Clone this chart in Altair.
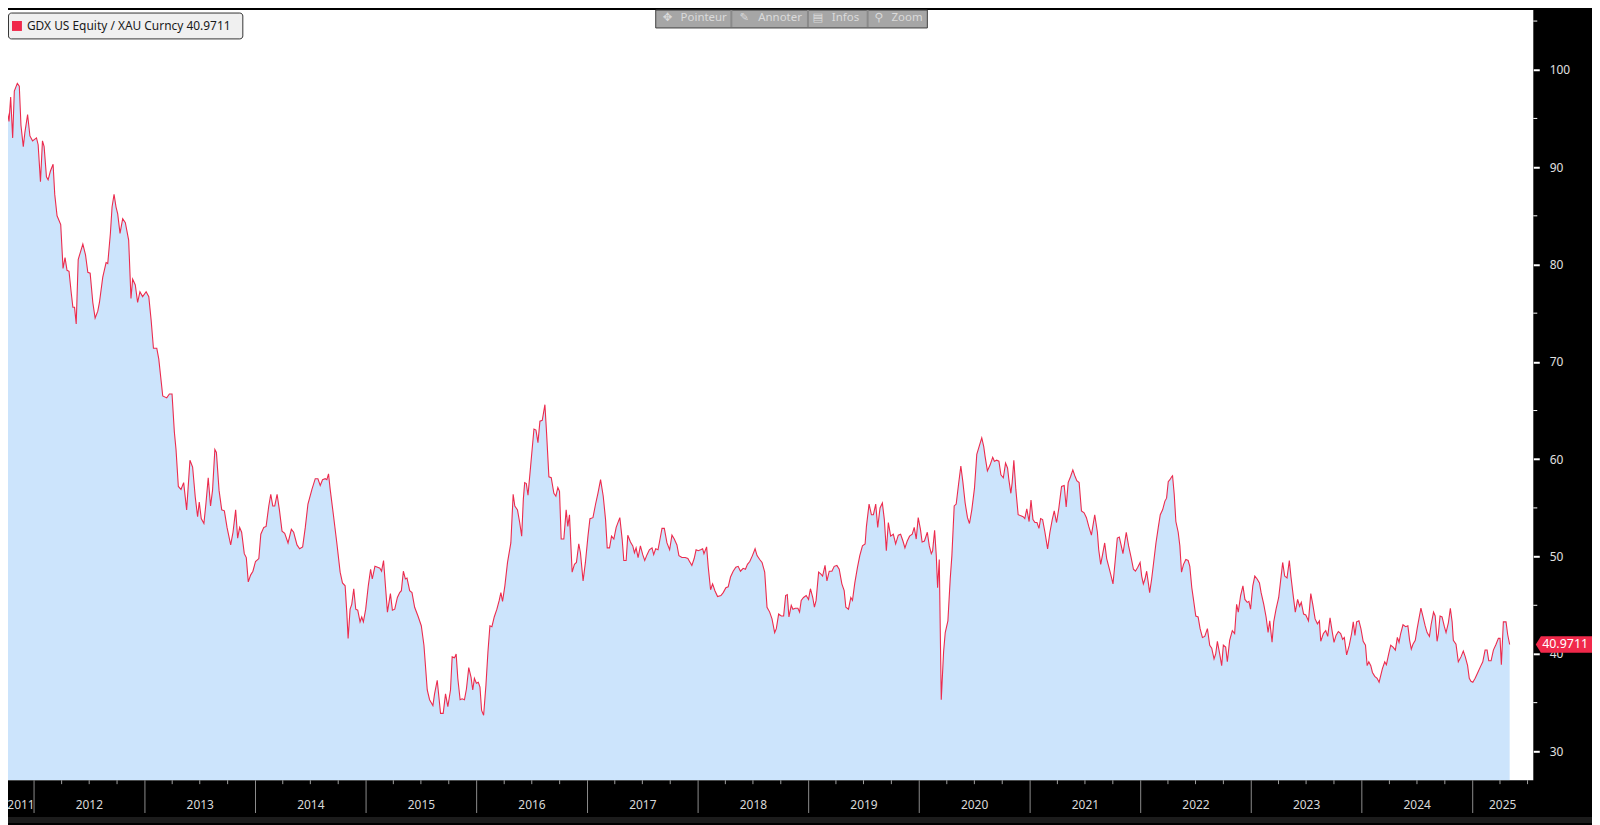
import altair as alt
import pandas as pd

# ---------------- data (decimal year, value) ----------------
T = [
2011.692,2011.707,2011.728,2011.752,2011.773,2011.788,2011.806,2011.821,2011.848,2011.866,2011.881,2011.902,2011.917,2011.941,2011.962,2011.986,
2012.022,2012.037,2012.058,2012.076,2012.091,2012.112,2012.127,2012.148,2012.172,2012.187,2012.208,2012.241,2012.262,2012.280,2012.298,2012.316,
2012.337,2012.351,2012.366,2012.381,2012.399,2012.417,2012.441,2012.465,2012.486,2012.507,2012.531,2012.552,2012.576,2012.591,2012.621,2012.651,
2012.666,2012.690,2012.705,2012.723,2012.741,2012.756,2012.777,2012.801,2012.825,2012.855,2012.876,2012.891,2012.915,2012.936,2012.957,2012.981,
2013.011,2013.035,2013.056,2013.077,2013.107,2013.125,2013.161,2013.197,2013.221,2013.245,2013.266,2013.281,2013.302,2013.326,2013.350,2013.377,
2013.407,2013.431,2013.455,2013.476,2013.491,2013.509,2013.533,2013.551,2013.572,2013.593,2013.611,2013.632,2013.646,2013.670,2013.694,2013.718,
2013.742,2013.775,2013.796,2013.820,2013.838,2013.856,2013.874,2013.898,2013.916,2013.934,2013.955,2013.976,2014.000,2014.030,2014.048,2014.075,
2014.096,2014.120,2014.138,2014.156,2014.174,2014.195,2014.216,2014.240,2014.264,2014.294,2014.324,2014.345,2014.375,2014.399,2014.426,2014.450,
2014.474,
2014.510,2014.540,2014.564,2014.585,2014.606,2014.630,2014.645,2014.660,2014.675,2014.705,2014.735,2014.765,2014.786,2014.810,2014.825,2014.837,
2014.855,2014.870,2014.888,2014.906,2014.924,2014.945,2014.960,2014.975,2014.996,2015.020,2015.041,2015.056,2015.080,2015.104,2015.125,2015.140,
2015.158,2015.175,2015.193,2015.220,2015.238,2015.259,2015.283,2015.304,2015.319,2015.337,2015.355,2015.370,2015.394,2015.415,2015.439,2015.469,
2015.499,2015.523,2015.553,2015.574,2015.604,2015.619,2015.643,2015.658,2015.673,2015.697,2015.718,2015.739,2015.763,2015.778,2015.799,2015.814,
2015.829,2015.850,2015.868,2015.889,2015.907,2015.928,2015.949,2015.964,2015.979,2015.997,2016.015,2016.030,2016.045,2016.063,2016.084,2016.102,
2016.120,2016.138,2016.159,2016.183,2016.204,2016.219,2016.234,2016.255,2016.279,2016.309,2016.330,2016.345,2016.369,2016.389,2016.407,2016.422,
2016.434,2016.449,2016.464,2016.488,2016.518,2016.536,2016.554,2016.572,2016.593,2016.617,2016.632,2016.653,2016.674,2016.698,2016.716,2016.734,
2016.749,2016.764,2016.788,2016.809,2016.824,2016.839,2016.863,2016.884,2016.902,2016.923,2016.938,2016.962,2016.983,2017.004,2017.022,2017.049,
2017.073,2017.094,2017.118,2017.142,2017.163,2017.178,2017.199,2017.217,2017.238,2017.259,
2017.292,2017.313,2017.328,2017.349,2017.364,2017.388,2017.409,2017.424,2017.439,2017.457,2017.478,2017.499,2017.517,2017.538,2017.559,2017.583,
2017.598,2017.616,2017.637,2017.652,2017.673,2017.694,2017.718,2017.742,2017.763,2017.784,2017.808,2017.826,2017.853,2017.883,2017.907,2017.922,
2017.943,2017.964,2017.981,2018.002,2018.023,2018.041,2018.053,2018.077,2018.092,2018.113,2018.131,2018.152,2018.176,2018.206,2018.227,2018.251,
2018.272,2018.293,2018.317,2018.341,2018.362,2018.383,2018.407,2018.428,2018.446,2018.467,2018.491,2018.515,2018.533,2018.557,2018.578,2018.602,
2018.623,2018.647,2018.668,2018.692,2018.707,2018.728,2018.752,2018.773,2018.791,2018.806,2018.821,2018.842,2018.857,2018.878,2018.902,2018.917,
2018.932,2018.953,2018.977,2018.998,2019.016,2019.037,2019.052,2019.067,2019.090,2019.111,2019.126,2019.148,2019.165,2019.186,2019.210,2019.231,
2019.255,2019.276,2019.300,2019.321,2019.336,2019.360,2019.381,2019.396,2019.417,2019.441,2019.462,2019.486,2019.510,2019.522,2019.546,2019.567,
2019.585,2019.606,2019.624,2019.645,2019.666,2019.684,2019.702,2019.720,2019.741,2019.765,2019.786,2019.810,2019.831,2019.852,2019.870,2019.891,
2019.912,2019.936,2019.954,2019.972,2019.990,2020.011,2020.026,2020.047,
2020.073,2020.091,2020.109,2020.121,2020.139,2020.154,2020.166,2020.181,2020.199,2020.220,2020.235,2020.259,2020.280,2020.295,2020.316,2020.334,
2020.355,2020.376,2020.394,2020.415,2020.436,2020.454,2020.475,2020.499,2020.520,2020.541,2020.565,2020.583,2020.595,2020.616,2020.640,2020.664,
2020.679,2020.700,2020.720,2020.738,2020.760,2020.780,2020.798,2020.810,2020.828,2020.840,2020.855,2020.873,2020.894,2020.918,2020.939,2020.954,
2020.972,2020.993,2021.008,2021.026,2021.044,2021.062,2021.080,2021.095,2021.113,2021.134,2021.158,2021.179,2021.200,2021.218,2021.239,2021.260,
2021.284,2021.308,2021.326,2021.344,2021.365,2021.386,2021.404,2021.422,2021.443,2021.464,2021.488,2021.509,2021.530,2021.554,2021.584,2021.608,
2021.620,2021.638,2021.653,2021.674,2021.692,2021.710,2021.728,2021.749,2021.770,2021.788,2021.806,2021.824,2021.839,2021.854,2021.869,2021.890,
2021.913,2021.934,2021.952,2021.973,2021.994,2022.009,2022.024,2022.039,2022.054,2022.069,2022.081,2022.099,2022.117,2022.138,2022.159,2022.177,
2022.198,2022.219,2022.234,2022.249,2022.264,2022.280,2022.288,2022.303,2022.318,2022.339,2022.354,2022.369,2022.387,2022.408,2022.429,2022.444,
2022.462,2022.477,2022.498,2022.519,2022.537,2022.558,2022.579,2022.603,2022.624,2022.642,
2022.663,2022.678,2022.693,2022.714,2022.732,2022.747,2022.768,2022.783,2022.804,2022.828,2022.849,2022.867,2022.882,2022.903,2022.924,2022.942,
2022.963,2022.978,2022.993,2023.014,2023.032,2023.053,2023.074,2023.089,2023.113,2023.134,2023.152,2023.167,2023.188,2023.203,2023.224,2023.248,
2023.263,2023.284,2023.302,2023.323,2023.344,2023.359,2023.377,2023.398,2023.419,2023.437,2023.452,2023.473,2023.493,2023.517,2023.538,2023.556,
2023.577,2023.598,2023.616,2023.628,2023.652,2023.673,2023.691,2023.712,2023.733,2023.748,2023.766,2023.787,2023.808,2023.826,2023.841,2023.862,
2023.886,2023.907,2023.922,2023.937,2023.952,2023.973,2023.991,2024.012,2024.033,2024.048,2024.063,2024.081,2024.096,2024.117,2024.138,2024.156,
2024.171,2024.186,2024.207,2024.222,2024.243,2024.261,2024.282,2024.303,2024.321,2024.336,2024.351,2024.372,2024.396,2024.416,2024.432,2024.447,
2024.462,2024.483,2024.500,2024.516,2024.534,2024.551,2024.572,2024.590,2024.611,2024.626,2024.648,2024.663,2024.680,2024.692,2024.707,2024.725,
2024.746,2024.761,2024.782,2024.800,2024.816,2024.827,2024.851,2024.872,2024.896,2024.917,2024.935,2024.956,2024.971,2024.986,2025.001,2025.022,
2025.046,2025.070,2025.091,2025.112,2025.130,2025.145,2025.166,2025.187,2025.211,2025.232,2025.247,2025.259,2025.277,2025.301,2025.316,2025.334,
]

V = [
100.1,99.8,96.3,96.1,94.7,97.2,93.0,97.8,98.6,98.3,94.3,92.1,93.6,95.4,93.2,92.7,
93.0,92.3,88.5,92.7,92.1,89.0,88.7,89.6,90.3,87.2,85.0,84.1,79.6,80.7,79.4,79.3,
77.0,75.6,75.6,73.9,80.5,81.2,82.1,81.0,79.2,79.1,76.1,74.5,75.2,76.1,78.7,80.2,
80.1,83.2,85.9,87.2,85.9,85.2,83.2,84.7,84.3,82.5,76.5,78.5,77.9,76.1,77.2,76.7,
77.2,76.7,74.3,71.4,71.4,70.3,66.5,66.3,66.7,66.7,62.8,61.0,57.2,56.9,57.6,54.8,
59.9,59.2,56.1,54.1,55.6,53.9,53.4,55.4,58.1,55.2,56.8,61.0,60.7,56.8,54.8,54.7,
53.0,51.2,52.5,54.8,51.9,53.0,52.5,50.3,49.9,47.4,48.1,48.5,49.5,49.8,52.3,53.0,
53.1,55.2,56.4,55.2,55.2,56.4,54.8,52.6,52.4,51.4,52.8,52.5,51.2,50.8,51.0,53.0,
55.4,
56.9,58.0,58.0,57.3,57.9,58.0,57.9,58.5,56.9,54.2,51.4,48.4,47.3,47.0,44.3,41.6,
44.6,45.1,46.7,44.6,44.5,43.3,43.8,43.3,44.6,47.0,48.7,47.7,49.0,48.9,48.8,48.5,
49.6,47.0,44.3,46.2,44.5,44.6,45.8,46.3,46.5,48.5,47.7,47.8,46.5,46.3,44.8,43.9,
42.9,40.9,36.3,35.3,34.7,35.9,37.3,35.6,33.9,33.9,35.9,34.6,36.3,39.7,39.6,40.0,
37.5,35.3,35.4,35.3,36.4,38.6,37.6,36.3,37.5,37.0,37.1,36.6,34.2,33.7,36.8,40.2,
42.9,42.8,43.8,44.6,45.5,46.3,45.4,47.0,49.4,51.4,56.4,55.2,54.8,53.5,52.1,55.9,
57.6,57.5,56.3,59.3,63.1,63.0,61.7,63.9,64.0,65.6,62.7,58.2,58.1,56.5,56.2,57.1,
56.7,51.8,51.8,54.8,53.1,54.3,48.4,49.2,49.4,51.3,50.4,47.5,49.4,52.1,53.9,54.0,
55.4,56.5,57.9,56.2,53.8,50.9,50.9,52.1,51.8,53.0,
54.0,51.8,49.6,49.6,52.2,51.5,51.1,50.4,50.9,49.9,51.1,50.2,49.6,50.2,50.7,50.9,
50.2,50.8,50.7,51.6,52.9,52.9,51.4,50.7,52.2,51.8,51.2,50.1,49.9,49.9,49.8,49.5,
49.1,49.8,50.7,50.6,50.7,50.8,50.3,51.0,48.9,46.6,47.2,46.5,45.9,46.0,46.3,46.8,
46.9,47.9,48.5,48.9,49.0,48.5,48.8,48.7,49.2,49.5,50.1,50.8,50.1,49.7,49.4,48.4,
44.8,44.3,43.6,42.2,42.6,44.1,43.9,43.9,46.0,46.1,43.8,45.0,44.6,44.7,44.7,44.3,
45.5,45.8,46.0,45.6,46.7,45.8,44.8,45.5,48.4,48.2,48.0,49.1,47.5,48.5,48.5,49.0,
49.1,48.7,47.2,46.5,44.8,44.6,45.8,45.5,47.3,48.9,50.1,51.1,51.3,53.1,55.4,54.3,
54.3,55.4,53.0,55.0,55.5,53.8,50.6,53.5,52.1,52.3,51.3,52.2,52.3,51.6,50.9,51.6,
52.1,52.3,53.0,51.8,54.0,52.8,51.5,51.6,
52.5,51.1,50.3,50.6,52.7,50.1,46.8,49.7,35.3,40.2,42.2,43.4,47.7,50.1,55.2,55.4,
57.4,59.3,57.7,55.5,54.0,53.4,54.8,57.0,60.5,61.3,62.2,61.3,60.3,58.8,59.4,60.2,
59.8,59.9,59.8,58.4,58.1,59.6,59.1,57.9,56.5,57.6,59.9,56.9,54.3,54.2,54.1,53.9,
54.9,53.6,55.8,53.8,53.5,53.5,52.9,53.9,53.8,52.5,50.8,52.5,53.8,54.7,53.5,55.0,
57.2,57.3,55.1,57.6,58.2,58.9,58.3,57.8,57.6,54.7,54.5,54.0,53.1,52.2,54.3,52.5,
50.7,49.2,50.1,51.4,49.8,49.0,48.2,47.2,49.7,51.9,52.0,51.1,50.3,51.4,52.5,51.1,
49.9,48.7,48.5,48.9,49.4,48.0,47.2,47.7,48.5,47.3,46.3,47.7,49.4,51.4,53.0,54.3,
54.8,55.7,56.0,57.7,57.9,58.2,58.3,56.4,53.6,52.5,51.1,48.4,49.2,49.7,49.6,49.0,
46.8,45.6,43.9,43.8,42.6,41.7,41.8,42.6,40.9,40.6,
39.5,40.0,41.3,40.0,38.8,40.9,40.7,39.2,41.4,42.4,42.1,45.1,44.3,46.0,47.0,45.6,
45.3,45.4,44.6,47.0,48.0,47.7,47.3,46.3,45.1,43.8,42.2,43.4,41.2,43.3,44.6,45.8,
47.3,49.4,48.0,47.8,49.6,47.9,46.2,44.3,45.6,44.9,45.3,44.1,44.0,43.4,46.2,45.1,
43.6,43.1,43.4,41.3,42.1,42.4,41.8,43.7,42.2,41.2,41.9,42.3,42.1,41.5,41.7,39.9,
40.9,42.1,43.3,41.9,43.3,43.4,42.6,41.3,40.9,38.8,39.2,38.8,38.1,37.7,37.5,37.1,
37.8,38.5,39.2,38.9,40.0,40.9,40.7,40.4,41.7,41.2,42.1,43.0,42.8,42.9,41.4,40.5,
41.0,41.4,42.6,43.6,44.7,43.9,42.9,42.2,41.8,43.0,44.3,43.9,41.3,42.1,43.9,43.8,
42.8,42.2,43.2,44.7,43.3,41.4,41.0,39.2,39.7,40.3,39.7,38.8,37.5,37.2,37.1,37.5,
38.1,38.7,39.2,40.4,40.4,39.3,39.3,40.4,41.0,41.6,41.6,38.9,43.3,43.3,42.0,40.9711,
]

SERIES_NAME = "GDX US Equity / XAU Curncy"
LAST_VALUE = 40.9711
LAST_LABEL = "40.9711"

Y_TICKS = [30, 40, 50, 60, 70, 80, 90, 100]
Y_MINOR = [35, 45, 55, 65, 75, 85, 95, 105]
Y_DOMAIN = [27.04, 106.13]
X_DOMAIN_YEARS = [2011.764, 2025.550]

YEAR_LABELS = ["2011", "2012", "2013", "2014", "2015", "2016", "2017", "2018",
               "2019", "2020", "2021", "2022", "2023", "2024", "2025"]
YEAR_LABEL_POS = [2011.881, 2012.5, 2013.5, 2014.5, 2015.5, 2016.5, 2017.5, 2018.5,
                  2019.5, 2020.5, 2021.5, 2022.5, 2023.5, 2024.5, 2025.271]
YEAR_BOUNDS = list(range(2012, 2026))


def to_ts(t):
    y = int(t)
    return pd.Timestamp(year=y, month=1, day=1) + pd.Timedelta(days=round((t - y) * 365.25, 3))


def to_dt(t):
    ts = to_ts(t)
    return alt.DateTime(year=ts.year, month=ts.month, date=ts.day)


series = pd.DataFrame({"date": [to_ts(t) for t in T], "v": V})
x0, x1 = to_ts(X_DOMAIN_YEARS[0]), to_ts(X_DOMAIN_YEARS[1])

W, H = 1533, 774

xscale = alt.Scale(domain=[to_dt(X_DOMAIN_YEARS[0]), to_dt(X_DOMAIN_YEARS[1])], nice=False)
yscale = alt.Scale(domain=Y_DOMAIN, zero=False, nice=False)
yaxis = alt.Axis(orient="right", values=Y_TICKS, title=None, domain=False, grid=False,
                 ticks=True, tickSize=6, tickWidth=2, tickColor="#ffffff",
                 labelColor="#e0e0e0", labelFont="Noto Sans", labelFontSize=12,
                 labelPadding=10, labelOverlap=False, labelFlush=False)


def X(field="date:T"):
    return alt.X(field, scale=xscale, axis=None)


def Y(field="v:Q"):
    return alt.Y(field, scale=yscale, axis=yaxis)


area = alt.Chart(series).mark_area(color="#cce4fc", clip=True).encode(
    x=X(), y=Y(), y2=alt.datum(Y_DOMAIN[0]))
line = alt.Chart(series).mark_line(color="#ec2b4d", strokeWidth=1.1, clip=True).encode(
    x=X(), y=Y())

minor_df = pd.DataFrame({"m": Y_MINOR})
minor = alt.Chart(minor_df).mark_rule(color="#ffffff", strokeWidth=1).encode(
    y=Y("m:Q"), x=alt.value(W), x2=alt.value(W + 4))

# x axis band
sep_df = pd.DataFrame({"date": [pd.Timestamp(year=y, month=1, day=1) for y in YEAR_BOUNDS]})
seps = alt.Chart(sep_df).mark_rule(color="#8c8c8c", strokeWidth=1).encode(
    x=X(), y=alt.value(H), y2=alt.value(H + 33))

q = pd.date_range("2011-10-01", "2025-07-01", freq="QS")
q = [d for d in q if d.month != 1 and x0 <= d <= x1]
q_df = pd.DataFrame({"date": q})
qticks = alt.Chart(q_df).mark_rule(color="#a0a0a0", strokeWidth=1).encode(
    x=X(), y=alt.value(H), y2=alt.value(H + 4))

yl_df = pd.DataFrame({"date": [to_ts(t) for t in YEAR_LABEL_POS], "label": YEAR_LABELS})
ylabels = alt.Chart(yl_df).mark_text(color="#d8d8d8", font="Noto Sans", fontSize=12,
                                     align="center", baseline="middle").encode(
    x=X(), y=alt.value(H + 25), text="label:N")

bottom_bar = alt.Chart(pd.DataFrame({"a": [0]})).mark_rect(color="#1c1c1c").encode(
    x=alt.value(0), x2=alt.value(W + 59), y=alt.value(H + 37), y2=alt.value(H + 43))

# last value tag
last_df = pd.DataFrame({"v": [LAST_VALUE], "label": [LAST_LABEL]})
tag_shape = "M -1 0 L -0.82 -0.29 L 1 -0.29 L 1 0.29 L -0.82 0.29 Z"
tag = alt.Chart(last_df).mark_point(shape=tag_shape, filled=True, opacity=1,
                                    color="#f0284a", size=57 * 57).encode(
    x=alt.value(W + 31), y=Y())
tag_text = alt.Chart(last_df).mark_text(color="#ffffff", font="Noto Sans", fontSize=12.5,
                                        align="center", baseline="middle").encode(
    x=alt.value(W + 32), y=Y(), text="label:N")

# legend box
one = pd.DataFrame({"a": [0]})
leg_box = alt.Chart(one).mark_rect(fill="#f0f0f0", stroke="#333333", strokeWidth=1,
                                   cornerRadius=3).encode(
    x=alt.value(0.5), x2=alt.value(236), y=alt.value(3), y2=alt.value(29))
leg_sq = alt.Chart(one).mark_rect(color="#f0284a").encode(
    x=alt.value(4), x2=alt.value(14), y=alt.value(11), y2=alt.value(21))
leg_df = pd.DataFrame({"t": [f"{SERIES_NAME} {LAST_LABEL}"]})
leg_text = alt.Chart(leg_df).mark_text(color="#1a1a1a", font="Noto Sans", fontSize=12,
                                       align="left", baseline="middle").encode(
    x=alt.value(19), y=alt.value(16.5), text="t:N")

# toolbar
tb = [alt.Chart(one).mark_rect(fill="#a6a6a6", stroke="#404040", strokeWidth=1).encode(
    x=alt.value(651), x2=alt.value(924), y=alt.value(0), y2=alt.value(18))]
for sx in [727, 804, 864]:
    tb.append(alt.Chart(one).mark_rule(color="#8a8a8a", strokeWidth=2).encode(
        x=alt.value(sx), y=alt.value(0), y2=alt.value(17)))
for txt, tx, fnt in [("✥", 663, "DejaVu Sans"), ("Pointeur", 676, "Noto Sans"),
                     ("✎", 740, "DejaVu Sans"), ("Annoter", 754, "Noto Sans"),
                     ("▤", 814, "DejaVu Sans"), ("Infos", 828, "Noto Sans"),
                     ("⚲", 875, "DejaVu Sans"), ("Zoom", 888, "Noto Sans")]:
    tb.append(alt.Chart(pd.DataFrame({"t": [txt]})).mark_text(
        color="#dadada", font=fnt, fontSize=11.5, align="left" if len(txt) > 1 else "center",
        baseline="middle").encode(x=alt.value(tx), y=alt.value(7.5), text="t:N"))

chart = alt.layer(
    area, line, minor, seps, qticks, ylabels, bottom_bar, tag, tag_text,
    leg_box, leg_sq, leg_text, *tb
).properties(
    width=W, height=H,
    autosize=alt.AutoSizeParams(type="none"),
    padding={"left": 0, "top": 0, "right": 59, "bottom": 43},
    background="#000000",
).configure_view(fill="#ffffff", stroke=None)

chart.save("out.html", embed_options={"renderer": "svg", "actions": False})
